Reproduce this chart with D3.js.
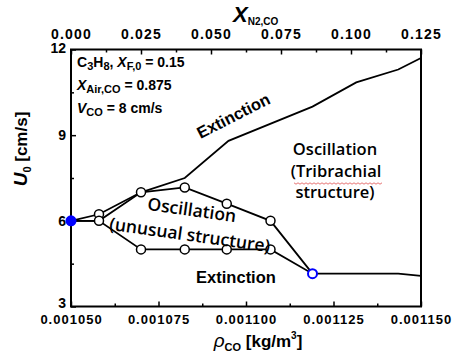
<!DOCTYPE html>
<html>
<head>
<meta charset="utf-8">
<script src="https://cdn.jsdelivr.net/npm/d3@7"></script>
<style>
  body { margin: 0; background: #fff; }
  svg { font-family: "Liberation Sans", Arial, sans-serif; }
</style>
</head>
<body>
<script>
// upper extinction boundary
var extTopX = [0.00105, 0.001058, 0.00107, 0.0010825, 0.001095, 0.001119, 0.0011315, 0.0011435, 0.00115];
var extTopY = [6.0, 6.23, 7.0, 7.5, 8.8, 10.0, 10.85, 11.3, 11.7];
// upper limit of the unusual oscillation
var unusualX = [0.00105, 0.001058, 0.00107, 0.0010825, 0.0010945, 0.001107, 0.001119];
var unusualY = [6.0, 6.0, 7.0, 7.17, 6.6, 6.0, 4.15];
// lower extinction boundary
var extLowX = [0.00105, 0.001058, 0.00107, 0.0010825, 0.0010945, 0.001107, 0.001119, 0.0011435, 0.00115];
var extLowY = [6.0, 6.0, 5.0, 5.0, 5.0, 5.0, 4.15, 4.15, 4.07];
// measured points (hollow)
var markX = [0.001058, 0.001058, 0.00107, 0.0010825, 0.0010945, 0.001107, 0.00107, 0.0010825, 0.0010945, 0.001107];
var markY = [6.23, 6.0, 7.0, 7.17, 6.6, 6.0, 5.0, 5.0, 5.0, 5.0];
// blue points
var blueX = [0.00105, 0.001119];
var blueY = [6.0, 4.15];
var blueFill = ["blue", "white"];

var xTicks = [0.00105, 0.001075, 0.0011, 0.001125, 0.00115];
var xMinor = [0.0010625, 0.0010875, 0.0011125, 0.0011375];
var topTicks = [0, 0.025, 0.05, 0.075, 0.1, 0.125];
var topMinor = [0.0125, 0.0375, 0.0625, 0.0875, 0.1125];
var yTicks = [3, 6, 9, 12];
var yMinor = [4.5, 7.5, 10.5];

var W = 456, H = 360;
var L = 71, R = 421, T = 49.5, B = 306.5;

var svg = d3.select("body").append("svg")
    .attr("width", W).attr("height", H);

var x = d3.scaleLinear().domain([0.00105, 0.00115]).range([L, R]);
var xTop = d3.scaleLinear().domain([0, 0.125]).range([L, R]);
var y = d3.scaleLinear().domain([3, 12]).range([B, T]);

function styleAxis(g, size, spacing) {
  g.select(".domain").remove();
  g.selectAll("line").attr("stroke", "#000").attr("stroke-width", 1.5);
  g.selectAll("text").attr("fill", "#000")
    .attr("font-weight", "bold").attr("font-size", size)
    .style("letter-spacing", spacing + "px");
}

// bottom axis
svg.append("g").attr("transform", "translate(0," + B + ")")
  .call(d3.axisBottom(x).tickValues(xTicks).tickSizeInner(-5).tickSizeOuter(0)
    .tickPadding(8).tickFormat(d3.format(".6f")))
  .call(styleAxis, 13, 1);
svg.append("g").attr("transform", "translate(0," + B + ")")
  .call(d3.axisBottom(x).tickValues(xMinor).tickSizeInner(-3).tickSizeOuter(0).tickFormat(""))
  .call(styleAxis, 13, 0);

// top axis
svg.append("g").attr("transform", "translate(0," + T + ")")
  .call(d3.axisTop(xTop).tickValues(topTicks).tickSizeInner(-5).tickSizeOuter(0)
    .tickPadding(11).tickFormat(d3.format(".3f")))
  .call(styleAxis, 14, 1.2);
svg.append("g").attr("transform", "translate(0," + T + ")")
  .call(d3.axisTop(xTop).tickValues(topMinor).tickSizeInner(-3).tickSizeOuter(0).tickFormat(""))
  .call(styleAxis, 14, 0);

// left axis
var yAxis = svg.append("g").attr("transform", "translate(" + L + ",0)")
  .call(d3.axisLeft(y).tickValues(yTicks).tickSizeInner(-5).tickSizeOuter(0)
    .tickPadding(5).tickFormat(d3.format("d")))
  .call(styleAxis, 14, 0);
// end labels sit a little higher
yAxis.selectAll(".tick text")
  .filter(function(d) { return d == 3; })
  .attr("dy", "0.05em");
yAxis.selectAll(".tick text")
  .filter(function(d) { return d == 12; })
  .attr("dy", "0.22em");
svg.append("g").attr("transform", "translate(" + L + ",0)")
  .call(d3.axisLeft(y).tickValues(yMinor).tickSizeInner(-3).tickSizeOuter(0).tickFormat(""))
  .call(styleAxis, 14, 0);

// frame
svg.append("rect")
  .attr("x", L).attr("y", T).attr("width", R - L).attr("height", B - T)
  .attr("fill", "none").attr("stroke", "#000").attr("stroke-width", 2);

// lines
var line = d3.line().x(function(d) { return x(d[0]); }).y(function(d) { return y(d[1]); });
var series = [d3.zip(extTopX, extTopY), d3.zip(unusualX, unusualY), d3.zip(extLowX, extLowY)];
svg.selectAll("path.curve")
  .data(series)
  .enter()
  .append("path")
  .attr("class", "curve")
  .attr("d", line)
  .attr("fill", "none")
  .attr("stroke", "#000")
  .attr("stroke-width", 1.8);

// hollow markers
svg.selectAll("circle.mark")
  .data(d3.zip(markX, markY))
  .enter()
  .append("circle")
  .attr("class", "mark")
  .attr("cx", function(d) { return x(d[0]); })
  .attr("cy", function(d) { return y(d[1]); })
  .attr("r", 4.5)
  .attr("fill", "#fff")
  .attr("stroke", "#000")
  .attr("stroke-width", 1.5);

svg.selectAll("circle.blue")
  .data(d3.zip(blueX, blueY, blueFill))
  .enter()
  .append("circle")
  .attr("class", "blue")
  .attr("cx", function(d) { return x(d[0]); })
  .attr("cy", function(d) { return y(d[1]); })
  .attr("r", 4.5)
  .attr("fill", function(d) { return d[2]; })
  .attr("stroke", "blue")
  .attr("stroke-width", 2);

// conditions text
var info = svg.append("g").attr("font-weight", "bold").attr("font-size", 14).attr("fill", "#000");
var t1 = info.append("text").attr("x", 77).attr("y", 67);
t1.append("tspan").text("C");
t1.append("tspan").attr("font-size", 11).attr("dy", 3).text("3");
t1.append("tspan").attr("dy", -3).text("H");
t1.append("tspan").attr("font-size", 11).attr("dy", 3).text("8");
t1.append("tspan").attr("dy", -3).text(", ");
t1.append("tspan").attr("font-style", "italic").text("X");
t1.append("tspan").attr("font-size", 11).attr("dy", 3).text("F,0");
t1.append("tspan").attr("dy", -3).text(" = 0.15");

var t2 = info.append("text").attr("x", 77).attr("y", 90);
t2.append("tspan").attr("font-style", "italic").text("X");
t2.append("tspan").attr("font-size", 11).attr("dy", 3).text("Air,CO");
t2.append("tspan").attr("dy", -3).text(" = 0.875");

var t3 = info.append("text").attr("x", 77).attr("y", 113);
t3.append("tspan").attr("font-style", "italic").text("V");
t3.append("tspan").attr("font-size", 11).attr("dy", 3).text("CO");
t3.append("tspan").attr("dy", -3).text(" = 8 cm/s");

// region labels
svg.append("text")
  .attr("transform", "translate(236,121) rotate(-27)")
  .attr("text-anchor", "middle")
  .attr("font-weight", "bold").attr("font-size", 16.5)
  .text("Extinction");

svg.append("text")
  .attr("x", 236).attr("y", 283)
  .attr("text-anchor", "middle")
  .attr("font-weight", "bold").attr("font-size", 16.5)
  .text("Extinction");

var tri = svg.append("g")
  .attr("font-family", "'Open Sans', 'Noto Sans', sans-serif")
  .attr("font-weight", 600).attr("font-size", 16.5)
  .attr("text-anchor", "middle");
tri.append("text").attr("x", 335).attr("y", 155).text("Oscillation");
tri.append("text").attr("x", 336).attr("y", 177).text("(Tribrachial");
tri.append("text").attr("x", 335).attr("y", 198).text("structure)");

// spell-check squiggle under "Tribrachial"
var squiggle = d3.range(294, 384, 2).map(function(px, i) { return [px, 183 + (i % 2 ? 1.2 : -0.2)]; });
svg.append("path")
  .attr("d", d3.line()(squiggle))
  .attr("fill", "none").attr("stroke", "#e05050").attr("stroke-width", 0.8);

var unusual = svg.append("g")
  .attr("font-family", "'Open Sans', 'Noto Sans', sans-serif")
  .attr("font-weight", 600).attr("font-size", 17.5)
  .attr("text-anchor", "middle");
unusual.append("text").attr("transform", "translate(191,216) rotate(8)").text("Oscillation");
unusual.append("text").attr("transform", "translate(189,241) rotate(8)").text("(unusual structure)");

// axis titles
var topTitle = svg.append("text").attr("x", 233).attr("y", 22).attr("font-weight", "bold");
topTitle.append("tspan").attr("font-style", "italic").attr("font-size", 22).text("X");
topTitle.append("tspan").attr("font-size", 10).attr("dy", 3).text("N2,CO");

var botTitle = svg.append("text").attr("x", 258).attr("y", 347)
  .attr("text-anchor", "middle").attr("font-weight", "bold").attr("font-size", 17);
botTitle.append("tspan").attr("font-style", "italic").attr("font-weight", "normal").attr("font-size", 19).text("\u03C1");
botTitle.append("tspan").attr("font-size", 11).attr("dy", 4).text("CO");
botTitle.append("tspan").attr("dy", -4).text(" [kg/m");
botTitle.append("tspan").attr("font-size", 10).attr("dy", -8).text("3");
botTitle.append("tspan").attr("dy", 8).text("]");

var leftTitle = svg.append("text")
  .attr("transform", "translate(27,149) rotate(-90)")
  .attr("text-anchor", "middle").attr("font-weight", "bold").attr("font-size", 17);
leftTitle.append("tspan").attr("font-style", "italic").attr("font-size", 19).text("U");
leftTitle.append("tspan").attr("font-size", 11).attr("dy", 4).text("0");
leftTitle.append("tspan").attr("dy", -4).text(" [cm/s]");
</script>
</body>
</html>
